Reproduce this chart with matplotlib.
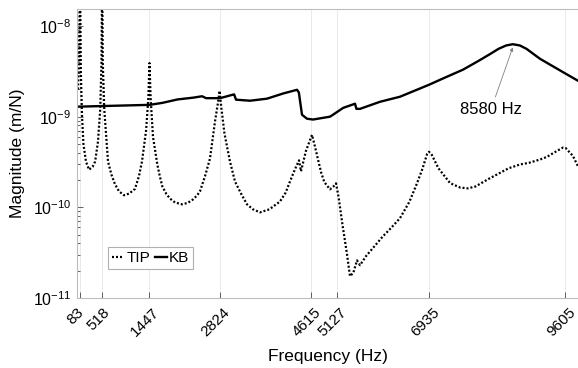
import numpy as np
import matplotlib
matplotlib.use("Agg")
import matplotlib.pyplot as plt
import matplotlib.transforms as mtransforms
from matplotlib.ticker import FixedLocator, LogFormatterSciNotation, NullFormatter

plt.rcParams['font.family'] = ['Liberation Sans', 'DejaVu Sans']
plt.rcParams['mathtext.fontset'] = 'custom'
plt.rcParams['mathtext.rm'] = 'Liberation Sans'
plt.rcParams['mathtext.default'] = 'regular'

# resonance frequencies used as x ticks
tick_freqs = [83, 518, 1447, 2824, 4615, 5127, 6935, 9605]
mag_ticks = [1e-11, 1e-10, 1e-9, 1e-8]
peak_freq = 8580

# TIP response (m/N)
tip_f = [45, 65, 83, 100, 122, 150, 200, 260, 330, 380, 436, 480, 505, 518,
         530, 560, 633, 700, 770, 850, 947, 1050, 1163, 1240, 1300, 1380,
         1425, 1447, 1470, 1516, 1600, 1650, 1700, 1780, 1850, 1950, 2086,
         2200, 2300, 2380, 2439, 2537, 2635, 2733, 2790, 2824, 2855, 2920,
         3028, 3126, 3250, 3362, 3480, 3617, 3800, 4010, 4120, 4206, 4300,
         4383, 4422, 4520, 4638, 4700, 4760, 4820, 4880, 4991, 5060, 5110,
         5160, 5227, 5325, 5384, 5450, 5522, 5581, 5700, 6032, 6200, 6366,
         6550, 6700, 6800, 6900, 6935, 6990, 7120, 7350, 7550, 7701, 7850,
         8100, 8500, 8722, 8900, 9115, 9250, 9450, 9566, 9620, 9760, 9861]
tip_m = [2.0e-9, 5e-9, 4e-8, 3e-9, 1.05e-9, 5e-10, 3.2e-10, 2.6e-10, 2.8e-10,
         3.2e-10, 5.3e-10, 1.2e-9, 4e-9, 4e-8, 4e-9, 1.2e-9, 3.2e-10, 2.3e-10,
         1.8e-10, 1.5e-10, 1.36e-10, 1.42e-10, 1.6e-10, 2.2e-10, 3.2e-10,
         7e-10, 1.6e-9, 3.9e-9, 1.6e-9, 6e-10, 3e-10, 2.2e-10, 1.7e-10,
         1.4e-10, 1.25e-10, 1.13e-10, 1.08e-10, 1.12e-10, 1.22e-10, 1.35e-10,
         1.5e-10, 2.2e-10, 3.45e-10, 8.8e-10, 1.4e-9, 1.93e-9, 1.3e-9,
         6.5e-10, 3.2e-10, 1.93e-10, 1.4e-10, 1.08e-10, 9.5e-11, 8.8e-11,
         9.5e-11, 1.16e-10, 1.45e-10, 1.93e-10, 2.6e-10, 3.3e-10, 2.5e-10,
         4.2e-10, 6.3e-10, 4.6e-10, 3.3e-10, 2.4e-10, 1.9e-10, 1.58e-10,
         1.7e-10, 1.84e-10, 1.3e-10, 7e-11, 3.05e-11, 1.74e-11, 1.9e-11,
         2.6e-11, 2.3e-11, 2.9e-11, 4.8e-11, 6e-11, 7.6e-11, 1.15e-10,
         1.84e-10, 2.6e-10, 3.9e-10, 4.1e-10, 3.8e-10, 2.7e-10, 1.85e-10,
         1.65e-10, 1.62e-10, 1.7e-10, 2.05e-10, 2.7e-10, 2.97e-10, 3.1e-10,
         3.37e-10, 3.6e-10, 4.2e-10, 4.56e-10, 4.5e-10, 3.7e-10, 2.83e-10]

# KB response (m/N)
kb_f = [45, 1450, 1700, 2000, 2302, 2480, 2560, 2832, 3087, 3110, 3146, 3421,
        3755, 4069, 4344, 4380, 4442, 4540, 4658, 4991, 5050, 5250, 5483,
        5510, 5581, 5974, 6366, 6936, 7250, 7603, 7900, 8133, 8300, 8450,
        peak_freq, 8720, 8850, 9115, 9566, 9861]
kb_m = [1.29e-9, 1.35e-9, 1.42e-9, 1.55e-9, 1.62e-9, 1.68e-9, 1.6e-9, 1.6e-9,
        1.75e-9, 1.76e-9, 1.54e-9, 1.5e-9, 1.58e-9, 1.8e-9, 1.98e-9, 1.85e-9,
        1.05e-9, 9.5e-10, 9.3e-10, 1.0e-9, 1.05e-9, 1.25e-9, 1.39e-9,
        1.22e-9, 1.22e-9, 1.46e-9, 1.66e-9, 2.25e-9, 2.7e-9, 3.3e-9, 4.1e-9,
        4.9e-9, 5.6e-9, 6.1e-9, 6.3e-9, 6.1e-9, 5.6e-9, 4.35e-9, 3.1e-9,
        2.49e-9]

fig = plt.figure(figsize=(5.78, 3.68), dpi=100)
ax = fig.add_axes([0.1332, 0.1902, 0.8668, 0.7853])

ax.plot(tip_f, tip_m, color='black', lw=1.6, linestyle=(0, (0.9, 0.9)), label='TIP')
ax.plot(kb_f, kb_m, color='black', lw=1.7, label='KB')

ax.set_yscale('log')
ax.set_xlim(24, 9861)
ax.set_ylim(1e-11, 1.54e-8)

ax.xaxis.set_major_locator(FixedLocator(tick_freqs))
ax.set_xticklabels([str(f) for f in tick_freqs], rotation=45, ha='center')
ax.yaxis.set_major_locator(FixedLocator(mag_ticks))
ax.yaxis.set_major_formatter(LogFormatterSciNotation())
minor = [k * d for d in mag_ticks[:-1] for k in range(2, 10)]
ax.yaxis.set_minor_locator(FixedLocator(minor))
ax.yaxis.set_minor_formatter(NullFormatter())

ax.tick_params(axis='both', which='both', direction='in', colors='#262626',
               labelsize=11.5)
ax.tick_params(axis='both', which='major', length=4, width=0.5)
ax.tick_params(axis='y', which='minor', length=2, width=0.5)
ax.tick_params(axis='x', which='major', pad=5)
ax.tick_params(axis='y', which='major', pad=4)
shift = mtransforms.ScaledTranslation(-0.04, 0, fig.dpi_scale_trans)
for lab in ax.get_xticklabels():
    lab.set_color('black')
    lab.set_fontsize(11)
    lab.set_transform(lab.get_transform() + shift)
for lab in ax.get_yticklabels():
    lab.set_color('black')

ax.grid(axis='x', color='#e6e6e6', lw=0.6)
ax.set_axisbelow(True)
for side in ['left', 'bottom', 'top']:
    ax.spines[side].set_color('#bdbdbd')
    ax.spines[side].set_linewidth(0.8)
ax.spines['right'].set_visible(False)

ax.set_xlabel('Frequency (Hz)', fontsize=12.5, labelpad=7)
ax.set_ylabel('Magnitude (m/N)', fontsize=12.5, labelpad=6)

ax.annotate(f'{peak_freq} Hz', xy=(peak_freq, 5.8e-9), xytext=(8150, 1.19e-9),
            fontsize=12, ha='center', va='center',
            arrowprops=dict(arrowstyle='-|>', color='#808080', lw=0.6,
                            mutation_scale=5, shrinkA=2, shrinkB=0))

leg = ax.legend(loc='lower left', bbox_to_anchor=(0.062, 0.1), ncol=2,
                fontsize=11, handlelength=0.8, handletextpad=0.15,
                columnspacing=0.3, borderpad=0.25, borderaxespad=0,
                fancybox=False, framealpha=1)
leg.get_frame().set_edgecolor('#b0b0b0')
leg.get_frame().set_linewidth(0.8)

fig.savefig('out.png', dpi=100)
